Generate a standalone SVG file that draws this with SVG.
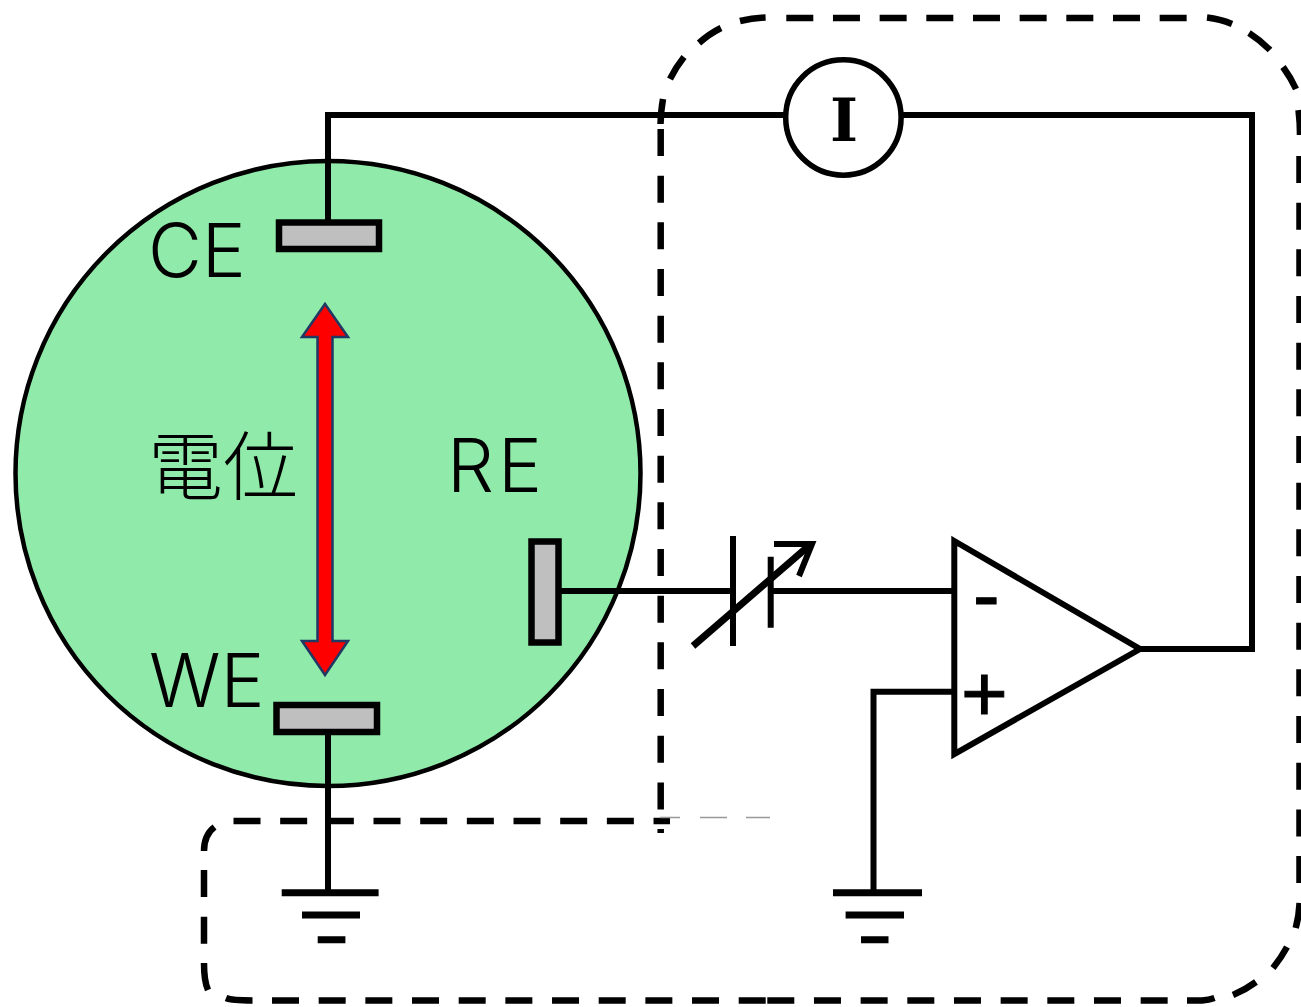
<svg xmlns="http://www.w3.org/2000/svg" width="1301" height="1007" viewBox="0 0 1301 1007">
<style>
.w{fill:none;stroke:#000;stroke-width:6}
.d{fill:none;stroke:#000;stroke-width:6.5;stroke-dasharray:27 19.67}
.a{fill:none;stroke:#000;stroke-width:6.5}
.g{fill:none;stroke:#000;stroke-width:7}
.e{fill:#bfbfbf;stroke:#000;stroke-width:6.5}
.l{font-family:"Inter","Noto Sans",sans-serif;font-weight:300;font-size:74px;fill:#000}
.s{font-family:"Liberation Sans",sans-serif;font-size:80px;fill:#000;stroke:#000;stroke-width:1}
</style>
<rect width="1301" height="1007" fill="#fff"/>
<g id="cell"><circle cx="328" cy="473.5" r="312.5" fill="#90eaa9" stroke="#000" stroke-width="4.5"/></g>
<g id="boundary">
<path class="d" d="M786.3 18H1190"/>
<path class="a" d="M765.6 17.5Q752 18 740 21M721 28Q709 34 699 43M684 57Q676 67 670 79M663 99Q661 110 660.5 124M1207 17.5Q1220 19 1232 24M1249 33Q1260 40 1270 50M1283 67Q1291 78 1296 89M1298.5 110Q1300 122 1300 135"/>
<path class="d" d="M660.7 129V833"/>
<path class="d" d="M1299.5 156V884"/>
<path class="a" d="M1299.6 903Q1299 916 1295.7 928M1287 947Q1281 958 1273 968M1256 982Q1245 990 1233 995M1187 1000.5H1202Q1209 1000 1214.5 998"/>
<path class="d" d="M233.5 821H670"/>
<path class="a" d="M214.5 827Q204 835 204 851M204 963Q204 981 208 990M226 998Q232 1000.5 252.5 1000.5"/>
<path class="d" d="M204 870V945"/>
<path class="d" d="M272 1000.5H767"/>
<path class="d" d="M767.3 1000.5H1168"/>
<path fill="none" stroke="#999" stroke-width="1.5" d="M660 817.5H680M700 817.5H727M746 817.5H770"/>
</g>
<g id="connectors">
<path class="w" d="M328 222V115H787"/>
<path class="w" d="M900 115H1252V649H1140"/>
<path class="w" d="M328 735V890"/>
<path class="w" d="M560 591H733"/>
<path class="w" d="M770.7 591H955"/>
<path class="w" d="M955 691.7H873.5V893"/>
</g>
<g id="ammeter"><circle cx="843.4" cy="117.5" r="57.7" fill="#fff" stroke="#000" stroke-width="5.5"/><text x="844" y="140.5" text-anchor="middle" font-family="DejaVu Serif" font-weight="700" font-size="60">I</text></g>
<g id="CE"><rect class="e" x="279" y="222.5" width="100" height="26.5"/><text class="l" x="148" y="277">CE</text></g>
<g id="WE"><rect class="e" x="276.5" y="705" width="100.5" height="27"/><text class="l" x="149" y="707">WE</text></g>
<g id="RE"><rect class="e" x="531.5" y="541.5" width="27" height="101"/><text class="l" x="447" y="492" letter-spacing="4">RE</text></g>
<g id="potential"><text x="148" y="494" style="font-family:'Noto Sans CJK JP',sans-serif;font-weight:300;font-size:75px">電位</text>
<path fill="#f00" stroke="#1f3864" stroke-width="2.5" d="M325 304L348 337H332.5V641H348L325 675L302 641H317.5V337H302Z"/></g>
<g id="source">
<path class="w" d="M733 536V646M770.7 556.7V627.7M774 544H812L799 576"/>
<path class="g" d="M693 646L811 544"/>
</g>
<g id="opamp"><path class="w" d="M954.3 541L1140 649L954.3 754Z"/><text class="s" x="973" y="622">-</text><text class="s" x="961" y="721">+</text></g>
<g id="ground1"><path class="g" d="M281.7 892.7H378.6M302 915H360M317.7 939.7H345.4"/></g>
<g id="ground2"><path class="g" d="M833 892.7H922M845.6 915H904M861 939.7H888.5"/></g>
</svg>
